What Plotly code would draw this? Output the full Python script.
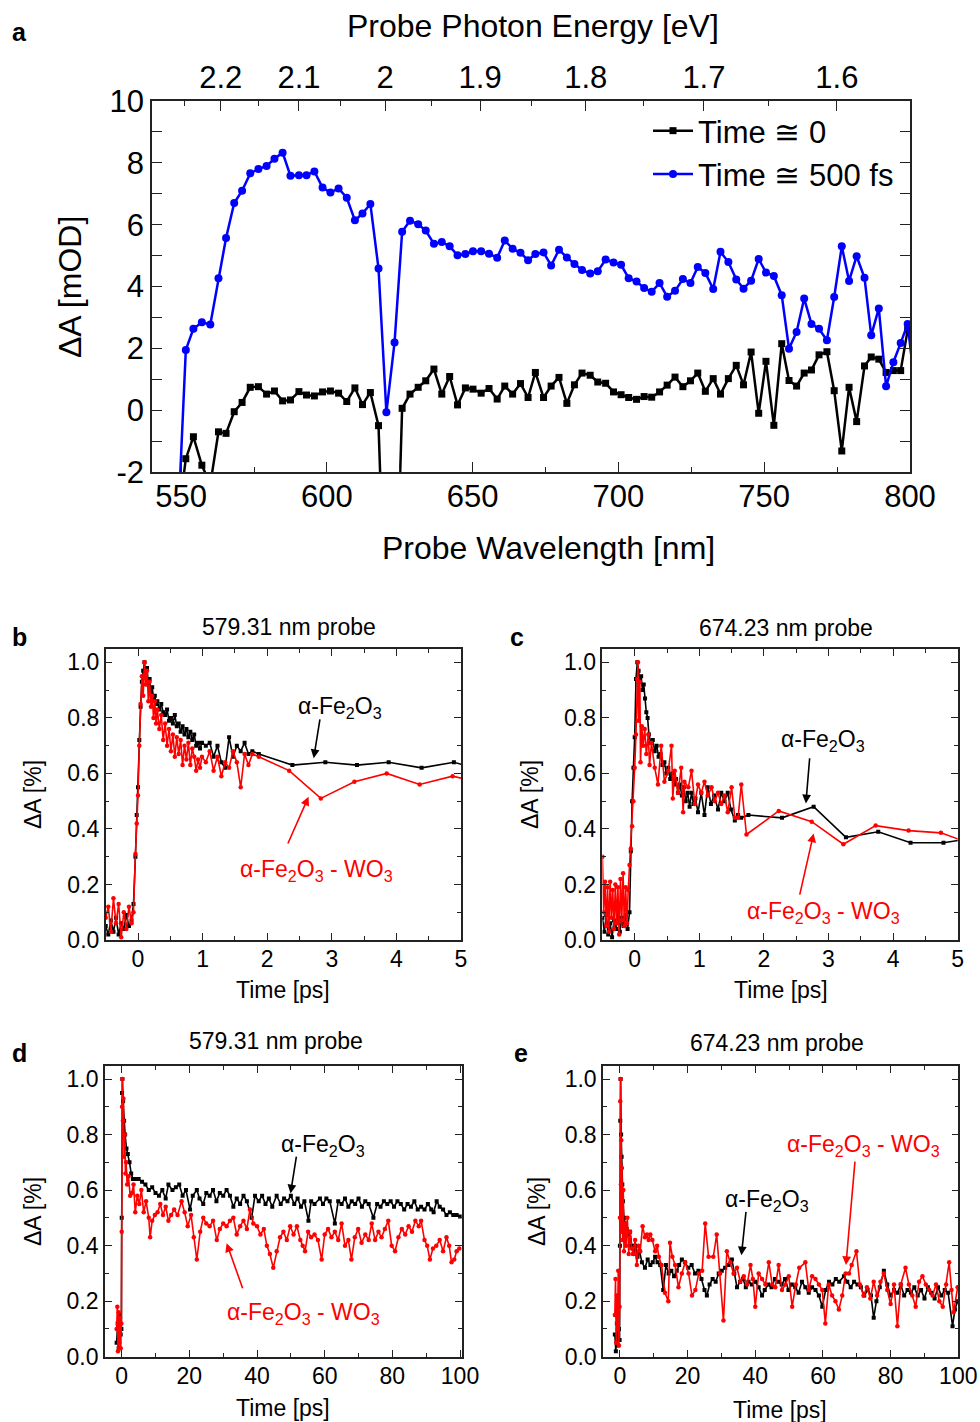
import plotly.graph_objects as go

W, H = 980, 1422

# ---------------- Panel a data ----------------
wl_a = [549.0, 551.6, 554.2, 557.1, 560.0, 562.8, 565.4, 568.2, 570.9, 573.7, 576.5, 579.3, 582.0, 584.8,
        587.5, 590.4, 593.0, 595.7, 598.5, 601.2, 604.0, 606.8, 609.6, 612.2, 614.9, 617.7, 620.4, 623.2,
        625.8, 628.5, 631.3, 633.9, 636.7, 639.4, 642.1, 644.8, 647.5, 650.1, 652.9, 655.6, 658.4, 661.0,
        663.7, 666.4, 669.0, 671.5, 674.3, 676.9, 679.6, 682.3, 684.9, 687.5, 690.3, 692.9, 695.6, 698.3,
        700.9, 703.5, 706.2, 708.8, 711.4, 714.1, 716.7, 719.4, 722.1, 724.7, 727.2, 729.8, 732.5, 735.0,
        737.7, 740.4, 742.9, 745.5, 748.1, 750.6, 753.3, 756.0, 758.5, 761.1, 763.7, 766.2, 768.8, 771.5,
        774.0, 776.6, 779.1, 781.7, 784.4, 786.7, 789.3, 791.8, 794.3, 796.8, 799.2, 801.5]
dA_t0 = [-3.5, -1.57, -0.86, -1.78, -2.4, -0.70, -0.75, -0.05, 0.25, 0.74, 0.76, 0.52, 0.62, 0.30,
         0.33, 0.60, 0.49, 0.46, 0.59, 0.62, 0.55, 0.28, 0.72, 0.18, 0.57, -0.50, -8.0, -8.0,
         0.06, 0.52, 0.74, 0.95, 1.33, 0.52, 1.09, 0.17, 0.72, 0.68, 0.55, 0.70, 0.36, 0.78,
         0.52, 0.86, 0.41, 1.22, 0.41, 0.78, 1.06, 0.22, 0.82, 1.20, 1.13, 0.91, 0.87, 0.59,
         0.50, 0.41, 0.35, 0.44, 0.42, 0.59, 0.81, 1.07, 0.76, 0.95, 1.20, 0.61, 1.02, 0.52,
         1.02, 1.45, 0.82, 1.88, -0.10, 1.58, -0.49, 2.15, 0.96, 0.78, 1.20, 1.30, 1.79, 1.89,
         0.63, -1.32, 0.74, -0.37, 1.43, 1.72, 1.65, 1.22, 1.28, 1.28, 2.60, 2.8]
dA_500 = [-3.5, 1.95, 2.63, 2.84, 2.77, 4.27, 5.57, 6.70, 7.10, 7.66, 7.80, 7.90, 8.13, 8.33,
          7.58, 7.60, 7.60, 7.72, 7.20, 7.04, 7.17, 6.87, 6.14, 6.36, 6.67, 4.58, -0.07, 2.19,
          5.77, 6.13, 6.01, 5.81, 5.38, 5.44, 5.30, 5.01, 5.05, 5.14, 5.14, 5.06, 4.93, 5.49,
          5.22, 5.09, 4.85, 5.05, 5.10, 4.68, 5.19, 4.94, 4.73, 4.53, 4.42, 4.49, 4.87, 4.78,
          4.70, 4.27, 4.16, 3.95, 3.83, 4.11, 3.67, 3.86, 4.24, 4.11, 4.63, 4.44, 3.92, 5.12,
          4.79, 4.23, 3.93, 4.19, 4.89, 4.45, 4.34, 3.72, 1.99, 2.53, 3.61, 2.79, 2.63, 2.26,
          3.66, 5.30, 4.18, 4.98, 4.28, 2.42, 3.29, 0.77, 1.55, 2.17, 2.79, 0.9]
energy_ticks = [2.2, 2.1, 2.0, 1.9, 1.8, 1.7, 1.6]
energy_labels = ["2.2", "2.1", "2", "1.9", "1.8", "1.7", "1.6"]
energy_minor = [2.25, 2.15, 2.05, 1.95, 1.85, 1.75, 1.65]
ya_ticks = [-2, 0, 2, 4, 6, 8, 10]
ya_labels = ["-2", "0", "2", "4", "6", "8", "10"]

# ---------------- Panel b (579.31 nm, short) ----------------
tb_k = [-0.50, -0.46, -0.42, -0.38, -0.34, -0.30, -0.26, -0.22, -0.18, -0.14, -0.10, -0.07, -0.04, -0.02,
        0.00, 0.02, 0.04, 0.06, 0.08, 0.10, 0.12, 0.14, 0.16, 0.18, 0.20, 0.22, 0.24, 0.26, 0.28, 0.30,
        0.33, 0.36, 0.39, 0.42, 0.45, 0.48, 0.51, 0.54, 0.57, 0.60, 0.63, 0.66, 0.69, 0.72, 0.75, 0.78,
        0.81, 0.84, 0.87, 0.90, 0.93, 0.96, 0.99, 1.05, 1.11, 1.17, 1.23, 1.29, 1.35, 1.41, 1.47, 1.53,
        1.59, 1.65, 1.71, 1.77, 1.87, 2.39, 2.90, 3.39, 3.88, 4.39, 4.89, 5.05]
vb_k = [0.05, 0.02, 0.07, 0.03, 0.08, 0.02, 0.06, 0.04, 0.09, 0.05, 0.07, 0.13, 0.30, 0.45,
        0.55, 0.72, 0.84, 0.93, 0.97, 1.00, 0.95, 0.98, 0.92, 0.94, 0.89, 0.91, 0.87, 0.88, 0.85, 0.86,
        0.83, 0.85, 0.82, 0.81, 0.83, 0.79, 0.80, 0.78, 0.81, 0.77, 0.78, 0.75, 0.77, 0.74, 0.76, 0.73,
        0.75, 0.72, 0.74, 0.70, 0.71, 0.69, 0.71, 0.70, 0.71, 0.66, 0.70, 0.64, 0.62, 0.73, 0.66, 0.70,
        0.68, 0.71, 0.67, 0.68, 0.67, 0.63, 0.64, 0.63, 0.64, 0.62, 0.64, 0.63]
tb_r = [-0.50, -0.46, -0.42, -0.38, -0.34, -0.30, -0.26, -0.22, -0.18, -0.14, -0.10, -0.07, -0.04, -0.02,
        0.00, 0.02, 0.04, 0.06, 0.08, 0.10, 0.12, 0.14, 0.16, 0.18, 0.20, 0.22, 0.24, 0.26, 0.28, 0.30,
        0.33, 0.36, 0.39, 0.42, 0.45, 0.48, 0.51, 0.54, 0.57, 0.60, 0.63, 0.66, 0.69, 0.72, 0.75, 0.78,
        0.81, 0.84, 0.87, 0.90, 0.93, 0.96, 0.99, 1.05, 1.11, 1.17, 1.23, 1.29, 1.35, 1.41, 1.47, 1.53,
        1.59, 1.65, 1.71, 1.77, 1.87, 2.34, 2.83, 3.35, 3.85, 4.36, 4.87, 5.05]
vb_r = [0.08, 0.12, 0.03, 0.15, 0.06, 0.13, 0.01, 0.10, 0.04, 0.12, 0.06, 0.10, 0.31, 0.42,
        0.52, 0.70, 0.85, 0.95, 0.88, 1.00, 0.92, 0.97, 0.86, 0.93, 0.84, 0.88, 0.80, 0.86, 0.78, 0.83,
        0.76, 0.81, 0.72, 0.78, 0.70, 0.76, 0.68, 0.74, 0.66, 0.73, 0.67, 0.72, 0.63, 0.70, 0.65, 0.71,
        0.63, 0.69, 0.66, 0.61, 0.65, 0.62, 0.66, 0.64, 0.68, 0.61, 0.66, 0.59, 0.64, 0.62, 0.68, 0.64,
        0.55, 0.67, 0.63, 0.67, 0.66, 0.61, 0.51, 0.57, 0.60, 0.56, 0.59, 0.58]

# ---------------- Panel c (674.23 nm, short) ----------------
tc_k = [-0.50, -0.47, -0.44, -0.41, -0.38, -0.35, -0.32, -0.29, -0.26, -0.23, -0.20, -0.17, -0.14, -0.11, -0.08,
        -0.06, -0.04, -0.02, 0.00, 0.02, 0.04, 0.06, 0.08, 0.10, 0.12, 0.14, 0.16, 0.18, 0.20, 0.22,
        0.25, 0.28, 0.31, 0.34, 0.37, 0.40, 0.43, 0.46, 0.49, 0.52, 0.55, 0.58, 0.61, 0.64, 0.67, 0.70,
        0.73, 0.76, 0.79, 0.82, 0.85, 0.88, 0.91, 0.94,
        0.98, 1.03, 1.08, 1.13, 1.18, 1.23, 1.29, 1.34, 1.39, 1.44, 1.49, 1.55, 1.60, 1.65,
        1.76, 2.28, 2.77, 3.27, 3.77, 4.27, 4.78, 5.05]
vc_k = [0.08, 0.03, 0.09, 0.02, 0.06, 0.01, 0.07, 0.04, 0.10, 0.03, 0.08, 0.05, 0.09, 0.04, 0.10,
        0.32, 0.50, 0.62, 0.73, 0.94, 1.00, 0.97, 0.93, 0.95, 0.90, 0.92, 0.87, 0.82, 0.80, 0.74,
        0.71, 0.72, 0.68, 0.70, 0.66, 0.67, 0.63, 0.64, 0.60, 0.62, 0.58, 0.60, 0.56, 0.58, 0.53, 0.56,
        0.52, 0.55, 0.50, 0.53, 0.48, 0.53, 0.49, 0.51,
        0.46, 0.53, 0.45, 0.55, 0.49, 0.52, 0.47, 0.53, 0.50, 0.53, 0.47, 0.43, 0.45, 0.44,
        0.45, 0.44, 0.48, 0.37, 0.39, 0.35, 0.35, 0.36]
tc_r = [-0.50, -0.48, -0.46, -0.44, -0.42, -0.40, -0.38, -0.36, -0.34, -0.32, -0.30, -0.28, -0.26, -0.24,
        -0.22, -0.20, -0.18, -0.16, -0.14, -0.12, -0.10, -0.08,
        -0.06, -0.04, -0.02, 0.00, 0.02, 0.04, 0.05, 0.06, 0.08, 0.09, 0.11, 0.13, 0.155, 0.18, 0.21,
        0.23, 0.26, 0.31, 0.36, 0.41, 0.46, 0.52, 0.57, 0.59, 0.62, 0.67, 0.72, 0.75, 0.77, 0.83,
        0.88, 0.93, 0.98, 1.03, 1.08, 1.13, 1.19, 1.24, 1.29, 1.34, 1.39, 1.44, 1.50, 1.55, 1.60,
        1.65, 1.73, 2.23, 2.74, 3.23, 3.73, 4.24, 4.74, 5.05]
vc_r = [0.30, 0.10, 0.21, 0.05, 0.19, 0.03, 0.21, 0.08, 0.18, 0.04, 0.20, 0.06, 0.19, 0.02,
        0.22, 0.07, 0.24, 0.05, 0.19, 0.06, 0.18, 0.27,
        0.33, 0.41, 0.50, 0.62, 0.74, 0.94, 1.00, 0.79, 0.93, 0.64, 0.77, 0.70, 0.76, 0.67, 0.74,
        0.63, 0.71, 0.62, 0.56, 0.70, 0.57, 0.61, 0.70, 0.51, 0.61, 0.53, 0.62, 0.46, 0.57, 0.55,
        0.61, 0.49, 0.56, 0.53, 0.57, 0.52, 0.55, 0.50, 0.53, 0.49, 0.52, 0.46, 0.55, 0.44, 0.44,
        0.56, 0.38, 0.465, 0.426, 0.345, 0.412, 0.394, 0.386, 0.36]

# ---------------- Panel d (579.31 nm, long) ----------------
td_k = [-1.5, -1.2, -0.9, -0.6, -0.3, -0.1, 0.0, 0.1, 0.2, 0.4, 0.7, 1.0, 1.4, 1.8, 2.3, 2.8, 3.3, 4, 5, 6,
        7, 8, 9, 10, 11, 12, 13, 13.8, 15, 16, 17, 18, 19, 20.2, 21, 22.2, 23, 24.1, 25, 26, 27, 28, 29,
        30, 31, 32, 33, 34, 35, 36, 37, 38.4, 39.4, 40.5, 41.5, 42.5, 43.5, 44.5, 45.8, 47, 48, 49, 50,
        51, 52, 53, 54, 55.2, 56, 57, 58.6, 59.5, 60.5, 61.5, 63, 64, 65, 66, 67, 68, 69, 70, 71, 72, 73,
        74.4, 75.5, 76.5, 77.5, 78.5, 79.5, 80.5, 81.5, 82.5, 83.5, 84.5, 85.5, 86.5, 87.5, 88.5, 89.5,
        90.5, 91.5, 92.2, 93.1, 94, 95, 96, 97, 98, 99, 100]
vd_k = [0.05, 0.12, 0.03, 0.15, 0.08, 0.10, 0.5, 0.95, 1.0, 0.92, 0.85, 0.80, 0.75, 0.73, 0.70, 0.66,
        0.64, 0.64, 0.64, 0.63, 0.62, 0.60, 0.61, 0.59, 0.58, 0.60, 0.57, 0.62, 0.60, 0.61, 0.62, 0.58,
        0.60, 0.53, 0.58, 0.60, 0.57, 0.55, 0.59, 0.58, 0.60, 0.56, 0.59, 0.58, 0.60, 0.58, 0.54, 0.57,
        0.55, 0.58, 0.56, 0.50, 0.58, 0.56, 0.58, 0.55, 0.57, 0.54, 0.58, 0.55, 0.57, 0.56, 0.58, 0.55,
        0.57, 0.54, 0.56, 0.49, 0.56, 0.55, 0.57, 0.55, 0.57, 0.56, 0.48, 0.56, 0.55, 0.57, 0.54, 0.56,
        0.55, 0.57, 0.54, 0.56, 0.55, 0.50, 0.55, 0.54, 0.56, 0.55, 0.56, 0.54, 0.56, 0.55, 0.53, 0.55,
        0.54, 0.56, 0.53, 0.54, 0.53, 0.55, 0.53, 0.52, 0.56, 0.54, 0.53, 0.51, 0.52, 0.51, 0.51, 0.505]
td_r = [-1.5, -1.3, -1.1, -0.9, -0.7, -0.5, -0.3, -0.1, 0.0, 0.1, 0.2, 0.35, 0.5, 0.7, 0.9, 1.1, 1.3, 1.6,
        2.0, 2.5, 3.0, 3.5, 4.0, 4.6, 5.2, 5.8, 6.5, 7.2, 8.0, 8.4, 9.0, 9.8, 10.6, 11.4, 12.2, 13.0,
        13.8, 14.6, 15.5, 16.5, 17.7, 18.6, 19.5, 20.5, 21.3, 22.2, 23.2, 24.1, 25.0, 26.0, 27.0, 28.1,
        29.0, 30.0, 31.0, 32.0, 33.0, 34.0, 35.0, 36.0, 37.0, 37.9, 38.9, 40.0, 41.0, 42.0, 42.9, 43.8,
        44.8, 45.8, 46.8, 47.8, 48.8, 49.8, 50.8, 51.8, 52.8, 53.5, 54.2, 55.1, 56.0, 57.0, 58.0, 59.1,
        60.0, 61.0, 62.0, 63.0, 64.0, 65.0, 66.0, 67.0, 67.9, 68.9, 69.9, 70.9, 72.0, 73.0, 73.9, 74.9,
        75.9, 76.8, 77.8, 78.8, 79.8, 80.8, 81.8, 82.8, 83.8, 84.8, 85.8, 86.8, 87.8, 88.5, 89.5, 90.3,
        91.1, 92.0, 93.0, 94.0, 95.0, 96.0, 96.8, 97.5, 98.3, 99.0, 99.8]
vd_r = [0.10, 0.18, 0.02, 0.16, 0.05, 0.14, 0.03, 0.12, 0.45, 0.90, 1.0, 0.85, 0.93, 0.72, 0.80, 0.66,
        0.70, 0.62, 0.65, 0.58, 0.59, 0.62, 0.52, 0.58, 0.55, 0.60, 0.52, 0.56, 0.50, 0.43, 0.49, 0.51,
        0.52, 0.55, 0.51, 0.54, 0.49, 0.51, 0.53, 0.51, 0.56, 0.52, 0.47, 0.51, 0.43, 0.35, 0.45, 0.50,
        0.48, 0.47, 0.49, 0.42, 0.46, 0.48, 0.47, 0.49, 0.50, 0.44, 0.47, 0.49, 0.46, 0.53, 0.48, 0.47,
        0.44, 0.46, 0.40, 0.37, 0.32, 0.38, 0.43, 0.45, 0.42, 0.47, 0.44, 0.47, 0.42, 0.40, 0.38, 0.45,
        0.43, 0.44, 0.42, 0.35, 0.44, 0.46, 0.43, 0.45, 0.42, 0.48, 0.40, 0.42, 0.35, 0.43, 0.46, 0.41,
        0.44, 0.42, 0.48, 0.42, 0.45, 0.43, 0.46, 0.49, 0.40, 0.38, 0.43, 0.46, 0.44, 0.47, 0.45, 0.49,
        0.47, 0.49, 0.42, 0.40, 0.35, 0.39, 0.40, 0.42, 0.38, 0.43, 0.40, 0.34, 0.35, 0.38, 0.39]

# ---------------- Panel e (674.23 nm, long) ----------------
te_k = [-1.5, -1.2, -0.9, -0.6, -0.3, -0.1, 0.0, 0.1, 0.2, 0.35, 0.5, 0.7, 0.9, 1.2, 1.5, 2.0, 2.5, 3.0,
        3.5, 4.0, 4.6, 5.2, 5.8, 6.5, 7.4, 8.2, 9.0, 9.7, 10.4, 11.1, 11.9, 12.8, 13.6, 14.4, 15.2, 16.0,
        16.8, 17.5, 18.3, 19.2, 20.2, 21.2, 22.2, 23.2, 24.1, 25.0, 25.7, 26.5, 27.4, 28.3, 29.2, 30.1,
        31.1, 32.1, 33.1, 33.8, 34.6, 35.5, 36.4, 37.2, 38.0, 39.0, 40.0, 41.0, 42.0, 42.8, 43.8, 44.8,
        45.8, 46.8, 47.8, 48.8, 49.8, 50.8, 51.8, 52.8, 53.8, 54.8, 55.8, 56.8, 57.8, 58.8, 59.8, 60.8,
        61.8, 62.8, 63.8, 64.8, 66.2, 67.2, 68.2, 69.2, 70.2, 71.2, 72.2, 73.2, 74.2, 75.0, 75.8, 76.8,
        78.0, 79.0, 80.0, 81.0, 82.0, 83.0, 84.0, 85.0, 86.0, 87.0, 88.0, 89.0, 90.0, 91.0, 92.0, 93.0,
        94.0, 95.0, 96.0, 97.0, 98.3, 99.0, 99.8]
ve_k = [0.08, 0.02, 0.12, 0.04, 0.10, 0.06, 0.40, 0.85, 1.0, 0.80, 0.72, 0.62, 0.56, 0.50, 0.48, 0.46,
        0.44, 0.45, 0.40, 0.37, 0.40, 0.36, 0.38, 0.34, 0.32, 0.35, 0.33, 0.34, 0.36, 0.34, 0.33, 0.24,
        0.33, 0.30, 0.31, 0.29, 0.31, 0.33, 0.35, 0.34, 0.32, 0.33, 0.30, 0.31, 0.28, 0.24, 0.22, 0.26,
        0.28, 0.27, 0.30, 0.31, 0.32, 0.33, 0.35, 0.30, 0.25, 0.27, 0.28, 0.25, 0.27, 0.26, 0.27, 0.25,
        0.22, 0.24, 0.26, 0.25, 0.28, 0.27, 0.26, 0.28, 0.24, 0.26, 0.25, 0.23, 0.27, 0.25, 0.23, 0.25,
        0.24, 0.22, 0.18, 0.24, 0.27, 0.26, 0.28, 0.27, 0.29, 0.27, 0.25, 0.27, 0.26, 0.25, 0.22, 0.24,
        0.22, 0.14, 0.20, 0.25, 0.31, 0.26, 0.22, 0.24, 0.23, 0.26, 0.22, 0.24, 0.23, 0.25, 0.22, 0.24,
        0.21, 0.25, 0.23, 0.21, 0.25, 0.22, 0.24, 0.23, 0.11, 0.17, 0.20]
te_r = [-1.5, -1.3, -1.1, -0.9, -0.7, -0.5, -0.3, -0.1, 0.0, 0.1, 0.2, 0.3, 0.4, 0.5, 0.6, 0.8, 1.0, 1.2,
        1.5, 1.8, 2.2, 2.6, 3.0, 3.5, 3.95, 4.5, 5.0, 5.5, 6.0, 6.7, 7.4, 8.0, 8.5, 9.0, 9.6, 10.4, 11.0,
        11.5, 12.3, 13.3, 14.3, 14.8, 15.5, 16.3, 17.3, 18.3, 19.3, 20.3, 21.3, 22.3, 23.3, 24.3, 25.2,
        26.2, 27.6, 28.6, 29.6, 30.6, 31.6, 32.6, 33.6, 34.6, 35.6, 36.6, 37.6, 38.6, 39.3, 40.0, 41.0,
        42.0, 43.0, 44.0, 45.0, 45.9, 46.9, 47.9, 48.9, 49.9, 50.9, 52.0, 53.0, 54.8, 55.8, 56.8, 57.8,
        58.8, 59.8, 60.7, 61.7, 62.7, 63.7, 64.7, 65.7, 66.7, 67.7, 68.5, 69.9, 70.9, 72.0, 73.0, 74.0,
        75.0, 76.0, 77.0, 78.0, 79.0, 80.0, 81.0, 82.0, 83.0, 84.4, 85.4, 86.4, 87.4, 88.4, 89.4, 90.4,
        91.4, 92.4, 93.4, 94.4, 95.4, 96.4, 97.3, 98.0, 98.6, 99.8]
ve_r = [0.15, 0.28, 0.05, 0.22, 0.10, 0.31, 0.04, 0.18, 0.50, 0.92, 1.0, 0.62, 0.78, 0.45, 0.68, 0.42,
        0.60, 0.38, 0.48, 0.40, 0.50, 0.37, 0.45, 0.39, 0.37, 0.42, 0.33, 0.40, 0.38, 0.47, 0.43, 0.44,
        0.42, 0.44, 0.42, 0.38, 0.40, 0.36, 0.33, 0.23, 0.20, 0.41, 0.36, 0.33, 0.25, 0.30, 0.34, 0.30,
        0.22, 0.24, 0.30, 0.31, 0.48, 0.36, 0.36, 0.44, 0.30, 0.13, 0.38, 0.34, 0.30, 0.32, 0.27, 0.29,
        0.26, 0.33, 0.28, 0.18, 0.30, 0.28, 0.26, 0.34, 0.26, 0.25, 0.33, 0.24, 0.26, 0.29, 0.18, 0.26,
        0.32, 0.34, 0.24, 0.29, 0.28, 0.26, 0.24, 0.12, 0.26, 0.22, 0.20, 0.17, 0.22, 0.30, 0.30, 0.33,
        0.38, 0.26, 0.22, 0.25, 0.21, 0.27, 0.22, 0.27, 0.30, 0.24, 0.19, 0.26, 0.11, 0.26, 0.32, 0.26,
        0.22, 0.18, 0.27, 0.29, 0.26, 0.24, 0.22, 0.26, 0.20, 0.18, 0.26, 0.34, 0.24, 0.16, 0.25]

FONT = "Liberation Sans, Arial, sans-serif"
BLACK = "#000000"
RED = "#FF0000"
BLUE = "#0000FF"
AXC = "#222222"


def px_x(p):
    return p / W


def px_y(p):
    return 1 - p / H


fig = go.Figure()

# Panel a traces
fig.add_trace(go.Scatter(x=wl_a, y=dA_t0, mode="lines+markers", name="Time \u2245 0",
                         line=dict(color=BLACK, width=2.5), marker=dict(symbol="square", size=7, color=BLACK),
                         xaxis="x", yaxis="y"))
fig.add_trace(go.Scatter(x=wl_a, y=dA_500, mode="lines+markers", name="Time \u2245 500 fs",
                         line=dict(color=BLUE, width=2.5), marker=dict(symbol="circle", size=8, color=BLUE),
                         xaxis="x", yaxis="y"))
fig.add_trace(go.Scatter(x=[], y=[], xaxis="x2", yaxis="y", showlegend=False, hoverinfo="skip"))


def add_pair(tk, vk, tr, vr, xa, ya):
    fig.add_trace(go.Scatter(x=tk, y=vk, mode="lines+markers", showlegend=False,
                             line=dict(color=BLACK, width=1.6), marker=dict(symbol="square", size=4, color=BLACK),
                             xaxis=xa, yaxis=ya))
    fig.add_trace(go.Scatter(x=tr, y=vr, mode="lines+markers", showlegend=False,
                             line=dict(color=RED, width=1.6), marker=dict(symbol="circle", size=4.5, color=RED),
                             xaxis=xa, yaxis=ya))


add_pair(tb_k, vb_k, tb_r, vb_r, "x3", "y3")
add_pair(tc_k, vc_k, tc_r, vc_r, "x4", "y4")
add_pair(td_k, vd_k, td_r, vd_r, "x5", "y5")
add_pair(te_k, ve_k, te_r, ve_r, "x6", "y6")


def axstyle(fs, ticklen):
    return dict(showline=True, linecolor=AXC, linewidth=1.5, ticks="inside", ticklen=ticklen,
                tickwidth=1.3, tickcolor=AXC, showgrid=False, zeroline=False,
                tickfont=dict(family=FONT, size=fs, color=BLACK))


big = axstyle(31, 10)
small = axstyle(23, 7)

layout_axes = {}
layout_axes["xaxis"] = dict(big, domain=[px_x(152), px_x(910)], range=[540, 800], anchor="y",
                            tickmode="array", tickvals=[550, 600, 650, 700, 750, 800], mirror=True,
                            ticklabelstandoff=-4,
                            minor=dict(tickvals=[575, 625, 675, 725, 775], ticklen=5, tickcolor=AXC, ticks="inside"))
layout_axes["yaxis"] = dict(big, domain=[px_y(472), px_y(101)], range=[-2, 10], anchor="x",
                            tickmode="array", tickvals=ya_ticks, ticktext=ya_labels, mirror="allticks",
                            minor=dict(tickvals=[-1, 1, 3, 5, 7, 9], ticklen=5, tickcolor=AXC, ticks="inside"))
layout_axes["xaxis2"] = dict(big, overlaying="x", side="top", anchor="y", range=[540, 800], showline=False,
                             tickmode="array", tickvals=[1239.84 / e for e in energy_ticks], ticktext=energy_labels,
                             ticklabelstandoff=6,
                             minor=dict(tickvals=[1239.84 / e for e in energy_minor], ticklen=5, tickcolor=AXC,
                                        ticks="inside"))


def short_x(dom, rng, anchor):
    return dict(small, domain=dom, range=rng, anchor=anchor, mirror="allticks", tickmode="array",
                tickvals=[0, 1, 2, 3, 4, 5], ticklabelstandoff=-2,
                minor=dict(tickvals=[-0.5, 0.5, 1.5, 2.5, 3.5, 4.5], ticklen=4, tickcolor=AXC, ticks="inside"))


def long_x(dom, rng, anchor):
    return dict(small, domain=dom, range=rng, anchor=anchor, mirror="allticks", tickmode="array",
                tickvals=[0, 20, 40, 60, 80, 100], ticklabelstandoff=-2,
                minor=dict(tickvals=[10, 30, 50, 70, 90], ticklen=4, tickcolor=AXC, ticks="inside"))


def frac_y(dom, anchor):
    return dict(small, domain=dom, range=[0, 1.047], anchor=anchor, mirror="allticks", tickmode="array",
                tickvals=[0, 0.2, 0.4, 0.6, 0.8, 1.0], ticktext=["0.0", "0.2", "0.4", "0.6", "0.8", "1.0"],
                minor=dict(tickvals=[0.1, 0.3, 0.5, 0.7, 0.9], ticklen=4, tickcolor=AXC, ticks="inside"))


ydom_top = [px_y(940), px_y(649.3)]
ydom_bot = [px_y(1356.7), px_y(1066)]
layout_axes["xaxis3"] = short_x([px_x(105.7), px_x(461)], [-0.5, 5.0], "y3")
layout_axes["yaxis3"] = frac_y(ydom_top, "x3")
layout_axes["xaxis4"] = short_x([px_x(602.4), px_x(957.7)], [-0.5, 5.0], "y4")
layout_axes["yaxis4"] = frac_y(ydom_top, "x4")
layout_axes["xaxis5"] = long_x([px_x(104.8), px_x(461.7)], [-5, 100.5], "y5")
layout_axes["yaxis5"] = frac_y(ydom_bot, "x5")
layout_axes["xaxis6"] = long_x([px_x(603), px_x(958.3)], [-5, 100], "y6")
layout_axes["yaxis6"] = frac_y(ydom_bot, "x6")

ann = []


def ptext(txt, x, y, size, angle=0, bold=False):
    t = f"<b>{txt}</b>" if bold else txt
    ann.append(dict(text=t, x=px_x(x), y=px_y(y), xref="paper", yref="paper", showarrow=False,
                    xanchor="center", yanchor="middle", textangle=angle,
                    font=dict(family=FONT, size=size, color=BLACK)))


# Panel a labels
ptext("Probe Photon Energy [eV]", 533, 26, 32)
ptext("Probe Wavelength [nm]", 548, 548, 32)
ptext("\u0394A [mOD]", 70, 287, 32, angle=-90)
ptext("a", 19, 32, 25, bold=True)
# lower panel labels
ptext("579.31 nm probe", 289, 627, 23)
ptext("674.23 nm probe", 786, 628, 23)
ptext("579.31 nm probe", 276, 1041, 23)
ptext("674.23 nm probe", 777, 1043, 23)
for (x, y) in [(283, 990), (781, 990), (283, 1408), (780, 1410)]:
    ptext("Time [ps]", x, y, 23)
for (x, y) in [(33, 795), (530, 795), (33, 1212), (537, 1212)]:
    ptext("\u0394A [%]", x, y, 23, angle=-90)
ptext("b", 19, 637, 25, bold=True)
ptext("c", 517, 637, 25, bold=True)
ptext("d", 19, 1053, 25, bold=True)
ptext("e", 521, 1053, 25, bold=True)

FE = "\u03b1-Fe<sub>2</sub>O<sub>3</sub>"
FEW = "\u03b1-Fe<sub>2</sub>O<sub>3</sub> - WO<sub>3</sub>"


def dlabel(txt, x, y, xa, ya, color):
    ann.append(dict(text=txt, x=x, y=y, xref=xa, yref=ya, showarrow=False, xanchor="center",
                    yanchor="middle", font=dict(family=FONT, size=23, color=color)))


def darrow(x, y, ax, ay, xa, ya, color):
    ann.append(dict(text="", x=x, y=y, ax=ax, ay=ay, xref=xa, yref=ya, axref=xa, ayref=ya,
                    showarrow=True, arrowhead=2, arrowsize=1.1, arrowwidth=1.6, arrowcolor=color, standoff=0))


# b
dlabel(FE, 3.13, 0.836, "x3", "y3", BLACK)
darrow(2.72, 0.655, 2.82, 0.80, "x3", "y3", BLACK)
dlabel(FEW, 2.77, 0.25, "x3", "y3", RED)
darrow(2.64, 0.516, 2.31, 0.342, "x3", "y3", RED)
# c
dlabel(FE, 2.92, 0.72, "x4", "y4", BLACK)
darrow(2.65, 0.492, 2.71, 0.66, "x4", "y4", BLACK)
dlabel(FEW, 2.92, 0.10, "x4", "y4", RED)
darrow(2.77, 0.384, 2.55, 0.158, "x4", "y4", RED)
# d
dlabel(FE, 59.6, 0.762, "x5", "y5", BLACK)
darrow(49.9, 0.588, 51.7, 0.726, "x5", "y5", BLACK)
dlabel(FEW, 53.7, 0.157, "x5", "y5", RED)
darrow(31.0, 0.409, 35.9, 0.241, "x5", "y5", RED)
# e
dlabel(FEW, 71.9, 0.762, "x6", "y6", RED)
darrow(66.8, 0.330, 69.5, 0.708, "x6", "y6", RED)
dlabel(FE, 43.5, 0.563, "x6", "y6", BLACK)
darrow(35.9, 0.365, 37.3, 0.527, "x6", "y6", BLACK)

fig.update_layout(
    width=W, height=H, margin=dict(l=0, r=0, t=0, b=0, autoexpand=False),
    paper_bgcolor="white", plot_bgcolor="white",
    font=dict(family=FONT, color=BLACK),
    showlegend=True,
    legend=dict(x=px_x(648), y=px_y(104), xanchor="left", yanchor="top", bgcolor="rgba(0,0,0,0)",
                font=dict(family=FONT, size=31, color=BLACK), itemwidth=40, tracegroupgap=0),
    annotations=ann,
    **layout_axes,
)

fig.write_html("out.html")
